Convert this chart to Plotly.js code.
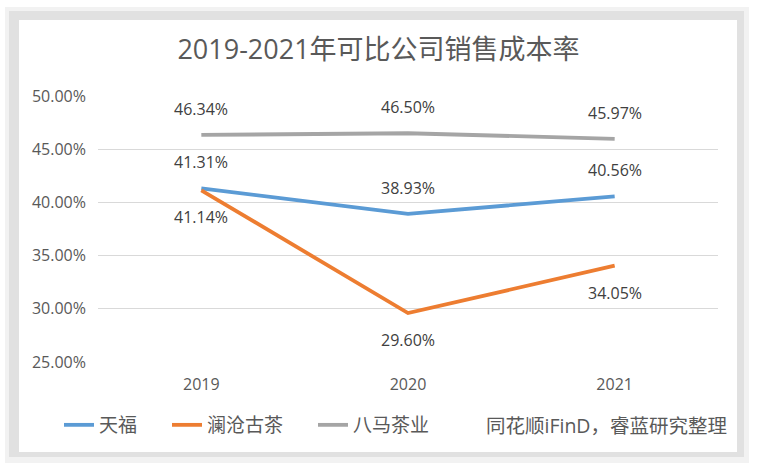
<!DOCTYPE html>
<html>
<head>
<meta charset="utf-8">
<script src="https://cdn.plot.ly/plotly-3.0.1.min.js"></script>
<style>
  html, body { margin: 0; padding: 0; background: #ffffff; }
  #chart { width: 757px; height: 469px; }
</style>
</head>
<body>
<div id="chart"></div>
<script>
// ---- Data ----
const years = ['2019', '2020', '2021'];
const seriesNames = ['天福', '澜沧古茶', '八马茶业'];
const tianfu = [0.4131, 0.3893, 0.4056];
const lancang = [0.4114, 0.2960, 0.3405];
const bama = [0.4634, 0.4650, 0.4597];
const titleText = '2019-2021年可比公司销售成本率';
const sourceText = '同花顺iFinD，睿蓝研究整理';
const yTickVals = [0.25, 0.30, 0.35, 0.40, 0.45, 0.50];

// ---- Styles ----
const colors = ['#5B9BD5', '#ED7D31', '#A5A5A5'];
const labelShift = [26, -27, 26];
const legendPx = [59, 167, 313];
const legendIds = ['legend', 'legend2', 'legend3'];
const W = 757, H = 469;
const M = { l: 98, r: 39, t: 96, b: 107 };
const PW = W - M.l - M.r, PH = H - M.t - M.b;
const fontFam = '"Open Sans", "Noto Sans CJK SC", sans-serif';
const px2x = p => (p - M.l) / PW;
const py2y = p => (H - M.b - p) / PH;

const allSeries = [tianfu, lancang, bama];
const traces = allSeries.map((vals, i) => ({
  type: 'scatter',
  mode: 'lines',
  name: seriesNames[i],
  x: years,
  y: vals,
  legend: legendIds[i],
  line: { color: colors[i], width: 3.8 },
  hoverinfo: 'skip'
}));

const annotations = [];
allSeries.forEach((vals, i) => {
  vals.forEach((v, j) => {
    annotations.push({
      xref: 'x', yref: 'y', x: j, y: v,
      text: (v * 100).toFixed(2) + '%',
      showarrow: false, yanchor: 'middle', xanchor: 'center',
      yshift: labelShift[i],
      font: { family: fontFam, size: 16, color: '#404040' }
    });
  });
});
annotations.push({
  xref: 'paper', yref: 'paper', x: px2x(484), y: py2y(425),
  xanchor: 'left', yanchor: 'middle', showarrow: false,
  text: sourceText,
  font: { family: fontFam, size: 19.5, color: '#595959' }
});

function rectPx(x0, y0, x1, y1, fill) {
  return { type: 'rect', xref: 'paper', yref: 'paper', layer: 'below',
    x0: px2x(x0), x1: px2x(x1), y0: py2y(y1), y1: py2y(y0),
    fillcolor: fill, line: { width: 0 } };
}

function legendAt(px) {
  return {
    orientation: 'h',
    x: px2x(px), xanchor: 'left',
    y: py2y(425), yanchor: 'middle',
    font: { family: fontFam, size: 19, color: '#595959' },
    bgcolor: 'rgba(0,0,0,0)',
    itemclick: false, itemdoubleclick: false
  };
}

const layout = {
  width: W, height: H,
  margin: M,
  paper_bgcolor: '#ffffff',
  plot_bgcolor: 'rgba(0,0,0,0)',
  title: {
    text: titleText,
    font: { family: fontFam, size: 27, color: '#595959' },
    x: 0.5, xanchor: 'center', xref: 'container',
    y: 1 - 50 / H, yanchor: 'middle', yref: 'container'
  },
  xaxis: {
    type: 'category',
    range: [-0.5, 2.5],
    showgrid: false, zeroline: false, showline: false,
    ticks: '',
    ticklabelstandoff: 11,
    tickfont: { family: fontFam, size: 16, color: '#595959' },
    fixedrange: true
  },
  yaxis: {
    range: [0.25, 0.50],
    tickvals: yTickVals,
    tickformat: '.2%',
    showgrid: true, gridcolor: '#d9d9d9', gridwidth: 1.3,
    zeroline: false, showline: false, ticks: '',
    ticklabelstandoff: 11,
    tickfont: { family: fontFam, size: 16, color: '#595959' },
    fixedrange: true
  },
  showlegend: true,
  legend: legendAt(legendPx[0]),
  legend2: legendAt(legendPx[1]),
  legend3: legendAt(legendPx[2]),
  shapes: [
    rectPx(5, 7, 749, 463, '#f2f2f2'),
    rectPx(9, 11, 744, 457, '#e1e1e1'),
    rectPx(19, 20, 737, 452, '#ffffff')
  ],
  annotations: annotations
};

Plotly.newPlot('chart', traces, layout, { displayModeBar: false, staticPlot: true });
</script>
</body>
</html>
